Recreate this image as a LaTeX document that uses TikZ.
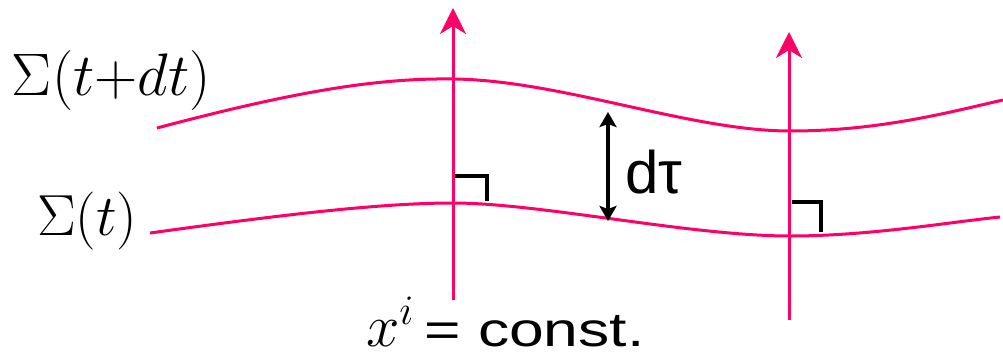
\RequirePackage{fix-cm}
\documentclass[tikz,border=0pt]{standalone}
\usepackage{fontspec}
\newfontfamily\arialf{Liberation Sans}
\usetikzlibrary{arrows.meta}
\definecolor{pinkline}{RGB}{255,0,102}
\begin{document}
\begin{tikzpicture}[x=1pt,y=-1pt,
  surface/.style={draw=pinkline,line width=3pt},
  worldline/.style={draw=pinkline,line width=3pt,-{Stealth[length=26pt,width=26pt,inset=8pt]}},
  rightangle/.style={draw=black,line width=4pt},
  gap/.style={draw=black,line width=4pt,{Stealth[length=15pt,width=17pt,inset=3pt]}-{Stealth[length=15pt,width=17pt,inset=3pt]}},
  lbl/.style={inner sep=0pt,outer sep=0pt}]
\useasboundingbox (0,0) rectangle (1003,359);
% surfaces
\draw[surface] (157,128) .. controls (300,90) and (380,78) .. (453,79)
  .. controls (560,80) and (690,131) .. (790,131)
  .. controls (880,131) and (950,112) .. (1003,100);
\draw[surface] (150,233) .. controls (280,215) and (380,203) .. (453,203)
  .. controls (540,203) and (690,236) .. (790,236)
  .. controls (870,236) and (950,222) .. (1000,217);
% world lines
\coordinate (l0) at (453,300);
\coordinate (l1) at (453,8);
\coordinate (r0) at (789,320);
\coordinate (r1) at (789,32);
\draw[worldline] (l0) -- (l1);
\draw[worldline] (r0) -- (r1);
% right angle marks
\coordinate (a0) at (455,176);
\coordinate (a1) at (487,176);
\coordinate (a2) at (487,201);
\draw[rightangle] (a0) -- (a1) -- (a2);
\coordinate (b0) at (792,202);
\coordinate (b1) at (821,202);
\coordinate (b2) at (821,232);
\draw[rightangle] (b0) -- (b1) -- (b2);
% dtau arrow
\coordinate (t0) at (608,112);
\coordinate (t1) at (608,221);
\draw[gap] (t0) -- (t1);
\node[lbl,anchor=base west] (dtau) at (625,193) {\fontsize{60}{60}\selectfont\arialf dτ};
% labels
\node[lbl,anchor=base west] (s2) at (12,95) {\fontsize{60}{60}\selectfont $\Sigma(t{+}dt)$};
\node[lbl,anchor=base west] (s1) at (37,235) {\fontsize{58}{58}\selectfont $\Sigma(t)$};
\node[lbl,anchor=base west] (xc) at (366,346) {{\fontsize{60}{60}\selectfont $x^i$}\scalebox{1.3}[1]{\fontsize{48}{48}\selectfont\,{\arialf = const.}}};
\end{tikzpicture}
\end{document}
